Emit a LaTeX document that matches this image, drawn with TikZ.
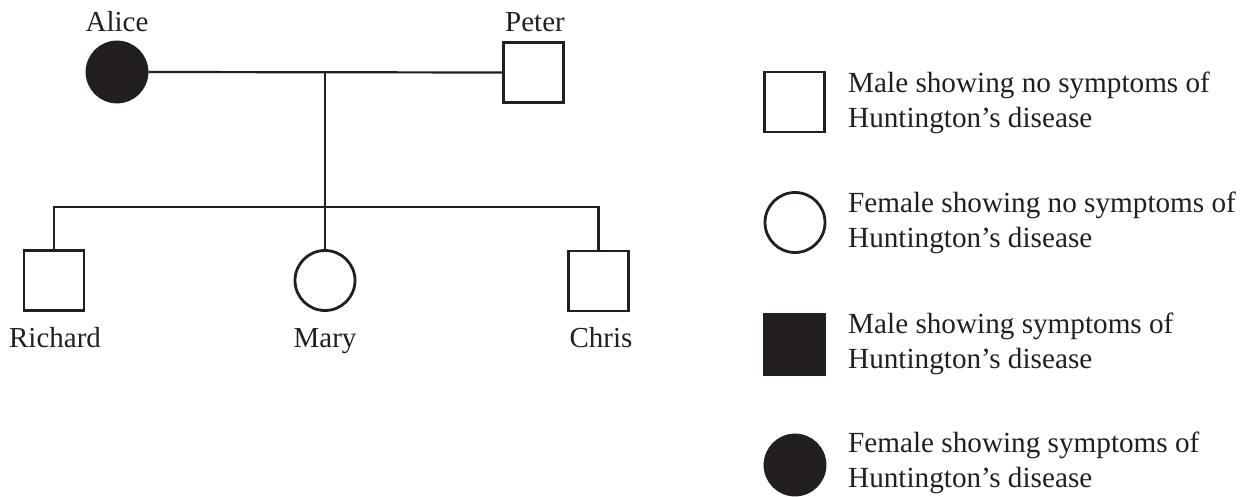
\documentclass[tikz,border=0pt]{standalone}
\usepackage{fontspec}
\setmainfont{Liberation Serif}
\definecolor{ink}{RGB}{35,31,32}
\begin{document}
\begin{tikzpicture}[x=1pt,y=-1pt,
  male/.style={draw=ink,line width=2.8pt,rectangle,minimum size=60pt,inner sep=0pt,fill=white},
  female/.style={draw=ink,line width=2.8pt,circle,minimum size=60pt,inner sep=0pt,fill=white},
  affected/.style={fill=ink},
  link/.style={draw=ink,line width=2.2pt},
  pname/.style={anchor=base,inner sep=0pt,font=\fontsize{29}{35}\selectfont,text=ink},
  legtext/.style={anchor=base west,inner sep=0pt,align=left,font=\fontsize{29.2}{35}\selectfont,text=ink}]
\useasboundingbox (0,0) rectangle (1252,497);
% pedigree
\node[female,affected] (alice) at (117,72) {};
\node[male] (peter) at (533.5,72.5) {};
\node[male] (richard) at (54,280.5) {};
\node[female] (mary) at (325,280.5) {};
\node[male] (chris) at (598.5,281) {};
\coordinate (mid) at (325,72);
\coordinate (sib) at (325,207);
\draw[link] (alice.east) -- (peter.west);
\draw[link] (mid) -- (mary.north);
\draw[link] (richard.north) |- (sib) -| (chris.north);
\node[pname] (lalice) at (117,32) {Alice};
\node[pname] (lpeter) at (535,32) {Peter};
\node[pname] (lrichard) at (55,347) {Richard};
\node[pname] (lmary) at (325,347) {Mary};
\node[pname] (lchris) at (601,347) {Chris};
% legend
\node[male] (k1) at (794.5,102) {};
\node[female] (k2) at (795,222.5) {};
\node[male,affected] (k3) at (794.5,344.5) {};
\node[female,affected] (k4) at (795,465) {};
\node[legtext] (t1) at (848,128) {Male showing no symptoms of\\Huntington’s disease};
\node[legtext] (t2) at (848,247) {Female showing no symptoms of\\Huntington’s disease};
\node[legtext] (t3) at (848,368) {Male showing symptoms of\\Huntington’s disease};
\node[legtext] (t4) at (848,487) {Female showing symptoms of\\Huntington’s disease};
\end{tikzpicture}
\end{document}
